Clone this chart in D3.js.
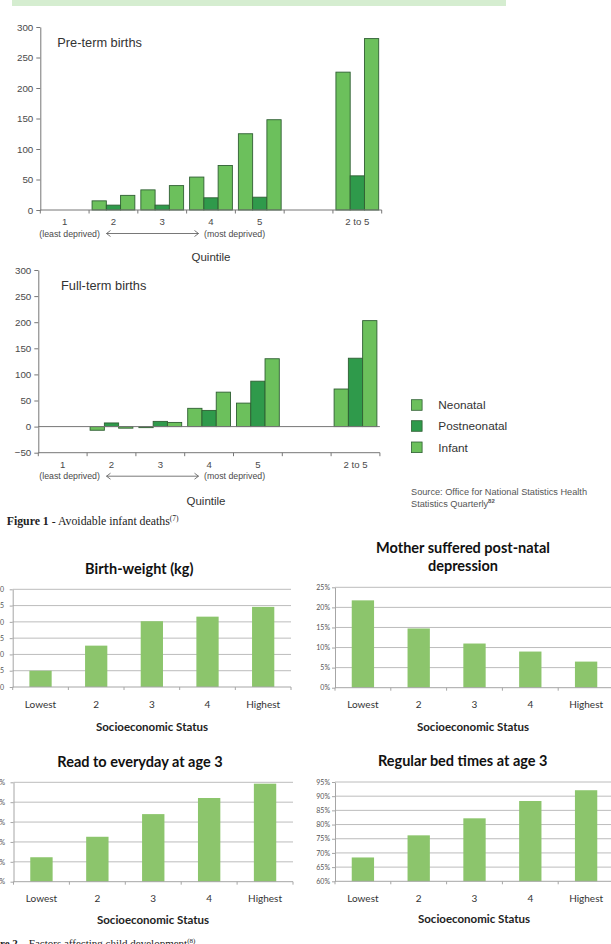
<!DOCTYPE html>
<html>
<head>
<meta charset="utf-8">
<script src="https://cdn.jsdelivr.net/npm/d3@7"></script>
<style>
  html, body { margin: 0; padding: 0; background: #fff; overflow: hidden; }
  svg { display: block; }
</style>
</head>
<body>
<script>
// ---------------- DATA ----------------
const quintiles = ["1", "2", "3", "4", "5", "gap", "2 to 5"];
const quintileLabels = ["1", "2", "3", "4", "5", "", "2 to 5"];
const seriesNames = ["Neonatal", "Postneonatal", "Infant"];

const preNeonatal      = [null, 15, 33, 54, 125, null, 226];
const prePostneonatal  = [null, 8, 8, 20, 21, null, 56];
const preInfant        = [null, 24, 40, 73, 148, null, 281];

const fullNeonatal     = [null, -7, -2, 35, 45, null, 72];
const fullPostneonatal = [null, 7, 10, 31, 87, null, 131];
const fullInfant       = [null, -3, 8, 66, 130, null, 203];

const preTicks  = [0, 50, 100, 150, 200, 250, 300];
const fullTicks = [-50, 0, 50, 100, 150, 200, 250, 300];

const sesCategories = ["Lowest", "2", "3", "4", "Highest"];
const birthWeight          = [3.150, 3.227, 3.302, 3.316, 3.346];
const postNatalDepression  = [0.2175, 0.1475, 0.110, 0.090, 0.065];
const readEveryday         = [0.523, 0.626, 0.740, 0.821, 0.893];
const regularBedtimes      = [0.684, 0.762, 0.822, 0.883, 0.921];

const birthWeightTicks = [3.10, 3.15, 3.20, 3.25, 3.30, 3.35, 3.40];
const depressionTicks  = [0, 0.05, 0.10, 0.15, 0.20, 0.25];
const readTicks        = [0.40, 0.50, 0.60, 0.70, 0.80, 0.90];
const bedTicks         = [0.60, 0.65, 0.70, 0.75, 0.80, 0.85, 0.90, 0.95];

// ---------------- DRAW ----------------
const W = 611, H = 944;
const svg = d3.select("body").append("svg").attr("width", W).attr("height", H);

const LIGHT = "#6cc05c", DARK = "#2f9a4b", OUTLINE = "#2f5f33";
const seriesColors = [LIGHT, DARK, LIGHT];
const topFont = "'Liberation Sans', Arial, sans-serif";
const xlFont = "Lato, 'Open Sans', sans-serif";

// top light-green band
svg.append("rect").attr("x", 12).attr("y", 0).attr("width", 494).attr("height", 6).attr("fill", "#d5edd0");

function quintileChart(cfg) {
  const g = svg.append("g");
  const y = d3.scaleLinear().domain(cfg.domain).range([cfg.bottom, cfg.top]);
  const x = d3.scaleBand().domain(quintiles).range([cfg.left, cfg.right]).padding(0);
  const inner = d3.scaleBand().domain(seriesNames).range([3, x.bandwidth() - 3]).padding(0);

  // y axis
  const yAxis = d3.axisLeft(y).tickValues(cfg.ticks).tickSize(4).tickPadding(3).tickSizeOuter(0);
  const ya = g.append("g").attr("transform", `translate(${cfg.left},0)`).call(yAxis);
  ya.select(".domain").attr("stroke", "#777");
  ya.selectAll(".tick line").attr("stroke", "#777");
  ya.selectAll(".tick text").attr("font-family", topFont).attr("font-size", 9.8).attr("fill", "#4a4a4a");

  // bars
  const series = cfg.series;
  seriesNames.forEach((s, si) => {
    const vals = series[si];
    g.append("g").selectAll("rect")
      .data(quintiles.map((q, i) => ({ q, v: vals[i] })).filter(d => d.v !== null))
      .join("rect")
      .attr("x", d => x(d.q) + inner(s))
      .attr("width", inner.bandwidth())
      .attr("y", d => y(Math.max(0, d.v)))
      .attr("height", d => Math.abs(y(d.v) - y(0)))
      .attr("fill", seriesColors[si])
      .attr("stroke", OUTLINE)
      .attr("stroke-width", 0.9);
  });

  // zero line (if domain below zero)
  if (cfg.domain[0] < 0) {
    g.append("line").attr("x1", cfg.left).attr("x2", cfg.right)
      .attr("y1", y(0)).attr("y2", y(0)).attr("stroke", "#777");
  }

  // x axis at bottom with boundary ticks
  g.append("line").attr("x1", cfg.left).attr("x2", cfg.right)
    .attr("y1", cfg.bottom).attr("y2", cfg.bottom).attr("stroke", "#777");
  const bounds = quintiles.map(q => x(q)).concat([cfg.right]);
  g.append("g").selectAll("line").data(bounds).join("line")
    .attr("x1", d => d).attr("x2", d => d)
    .attr("y1", cfg.bottom).attr("y2", cfg.bottom + 3.5).attr("stroke", "#777");

  // category labels
  g.append("g").selectAll("text").data(quintiles).join("text")
    .attr("x", d => x(d) + x.bandwidth() / 2)
    .attr("y", cfg.bottom + 15)
    .attr("text-anchor", "middle")
    .attr("font-family", topFont).attr("font-size", 9.6).attr("fill", "#4a4a4a")
    .text((d, i) => quintileLabels[i]);

  // deprived annotations
  const ay = cfg.bottom + 26.5;
  g.append("text").attr("x", 39.3).attr("y", ay).attr("font-family", topFont)
    .attr("font-size", 8.8).attr("fill", "#4a4a4a").text("(least deprived)");
  g.append("text").attr("x", 204).attr("y", ay).attr("font-family", topFont)
    .attr("font-size", 8.8).attr("fill", "#4a4a4a").text("(most deprived)");
  const lineY = ay - 3;
  const ax1 = 106.5, ax2 = 198.5;
  g.append("path")
    .attr("d", `M${ax1},${lineY}H${ax2}M${ax1 + 4},${lineY - 3}L${ax1},${lineY}L${ax1 + 4},${lineY + 3}M${ax2 - 4},${lineY - 3}L${ax2},${lineY}L${ax2 - 4},${lineY + 3}`)
    .attr("fill", "none").attr("stroke", "#555").attr("stroke-width", 0.8);

  // Quintile label
  g.append("text").attr("x", cfg.quintileX).attr("y", cfg.quintileY).attr("text-anchor", "middle")
    .attr("font-family", topFont).attr("font-size", 11.5).attr("fill", "#333").text("Quintile");

  // title
  g.append("text").attr("x", cfg.titleX).attr("y", cfg.titleY)
    .attr("font-family", topFont).attr("font-size", 12.8).attr("fill", "#333").text(cfg.title);
}

quintileChart({
  left: 40.3, right: 381.7, top: 27, bottom: 210,
  domain: [0, 300], ticks: preTicks,
  series: [preNeonatal, prePostneonatal, preInfant],
  title: "Pre-term births", titleX: 57.3, titleY: 47,
  quintileX: 211, quintileY: 261
});

quintileChart({
  left: 38.3, right: 379.9, top: 270, bottom: 452.7,
  domain: [-50, 300], ticks: fullTicks,
  series: [fullNeonatal, fullPostneonatal, fullInfant],
  title: "Full-term births", titleX: 61, titleY: 289.5,
  quintileX: 206, quintileY: 505
});

// legend
const legY = [405, 426, 447.3];
seriesNames.forEach((s, i) => {
  svg.append("rect").attr("x", 411.5).attr("y", legY[i] - 5.3).attr("width", 10.6).attr("height", 10.6)
    .attr("fill", seriesColors[i]).attr("stroke", OUTLINE).attr("stroke-width", 0.8);
  svg.append("text").attr("x", 438.3).attr("y", legY[i] + 4.2)
    .attr("font-family", topFont).attr("font-size", 11.8).attr("fill", "#333").text(s);
});

// source
const src = svg.append("text").attr("font-family", topFont).attr("font-size", 9.2).attr("fill", "#555");
src.append("tspan").attr("x", 411).attr("y", 495).text("Source: Office for National Statistics Health");
src.append("tspan").attr("x", 411).attr("y", 506.5).text("Statistics Quarterly");
src.append("tspan").attr("dy", -3.5).attr("font-size", 6).attr("font-weight", "bold").text("82");

// Figure 1 caption
const cap1 = svg.append("text").attr("x", 6.7).attr("y", 524.5).attr("font-family", "'Liberation Serif', 'Times New Roman', serif")
  .attr("font-size", 11.8).attr("fill", "#222");
cap1.append("tspan").attr("font-weight", "bold").text("Figure 1");
cap1.append("tspan").text(" - Avoidable infant deaths");
cap1.append("tspan").attr("dy", -4).attr("font-size", 7.5).text("(7)");

// ---------------- Excel-style charts ----------------
function excelChart(cfg) {
  const g = svg.append("g");
  const y = d3.scaleLinear().domain([cfg.ticks[0], cfg.ticks[cfg.ticks.length - 1]]).range([cfg.bottom, cfg.top]);
  const x = d3.scaleBand().domain(sesCategories).range([cfg.left, cfg.right]).paddingInner(0.6).paddingOuter(0.3);

  // gridlines
  g.append("g").selectAll("line").data(cfg.ticks.slice(1)).join("line")
    .attr("x1", cfg.left).attr("x2", cfg.right)
    .attr("y1", d => y(d)).attr("y2", d => y(d))
    .attr("stroke", "#bcbcbc").attr("stroke-width", 1);

  // y axis
  const yAxis = d3.axisLeft(y).tickValues(cfg.ticks).tickSize(3).tickPadding(2).tickSizeOuter(0).tickFormat(cfg.fmt);
  const ya = g.append("g").attr("transform", `translate(${cfg.left},0)`).call(yAxis);
  ya.select(".domain").attr("stroke", "#a6a6a6");
  ya.selectAll(".tick line").attr("stroke", "#a6a6a6");
  ya.selectAll(".tick text").attr("x", cfg.labelRight - cfg.left).attr("font-family", xlFont)
    .attr("font-size", 7).attr("fill", "#555");

  // bars
  g.append("g").selectAll("rect").data(sesCategories.map((c, i) => ({ c, v: cfg.values[i] })))
    .join("rect")
    .attr("x", d => x(d.c)).attr("width", x.bandwidth())
    .attr("y", d => y(d.v)).attr("height", d => y(cfg.ticks[0]) - y(d.v))
    .attr("fill", "#8cc56c");

  // x axis line + ticks
  g.append("line").attr("x1", cfg.left).attr("x2", cfg.right)
    .attr("y1", cfg.bottom).attr("y2", cfg.bottom).attr("stroke", "#a6a6a6");
  const bounds = d3.range(sesCategories.length + 1).map(i => cfg.left + i * (cfg.right - cfg.left) / sesCategories.length);
  g.append("g").selectAll("line").data(bounds).join("line")
    .attr("x1", d => d).attr("x2", d => d).attr("y1", cfg.bottom).attr("y2", cfg.bottom + 3)
    .attr("stroke", "#a6a6a6");

  // category labels
  g.append("g").selectAll("text").data(sesCategories).join("text")
    .attr("x", d => x(d) + x.bandwidth() / 2).attr("y", cfg.catY)
    .attr("text-anchor", "middle").attr("font-family", xlFont).attr("font-size", 10).attr("fill", "#333")
    .text(d => d);

  // axis title
  g.append("text").attr("x", cfg.axisTitleX).attr("y", cfg.axisTitleY)
    .attr("text-anchor", "middle").attr("font-family", xlFont).attr("font-size", 11.5)
    .attr("font-weight", "bold").attr("fill", "#222").text("Socioeconomic Status");

  // title
  cfg.title.forEach((t, i) => {
    g.append("text").attr("x", cfg.titleX).attr("y", cfg.titleY[i]).attr("text-anchor", "middle")
      .attr("font-family", xlFont).attr("font-size", 14.5).attr("font-weight", "bold").attr("fill", "#111")
      .text(t);
  });
}

const pct = d3.format(".0%");

excelChart({
  left: 12.7, right: 291, top: 589.3, bottom: 687, labelRight: 4,
  ticks: birthWeightTicks, fmt: d3.format(".2f"), values: birthWeight,
  catY: 707.5, axisTitleY: 731, axisTitleX: 152,
  title: ["Birth-weight (kg)"], titleX: 139.3, titleY: [573.5]
});

excelChart({
  left: 335, right: 614, top: 587.3, bottom: 687.7, labelRight: 330,
  ticks: depressionTicks, fmt: pct, values: postNatalDepression,
  catY: 708, axisTitleY: 731, axisTitleX: 473,
  title: ["Mother suffered post-natal", "depression"], titleX: 463, titleY: [552.5, 571]
});

excelChart({
  left: 13.5, right: 293, top: 782.3, bottom: 881.7, labelRight: 5,
  ticks: readTicks, fmt: pct, values: readEveryday,
  catY: 901.5, axisTitleY: 923.5, axisTitleX: 153,
  title: ["Read to everyday at age 3"], titleX: 140, titleY: [767]
});

excelChart({
  left: 335, right: 614, top: 782, bottom: 881.3, labelRight: 330,
  ticks: bedTicks, fmt: pct, values: regularBedtimes,
  catY: 901.5, axisTitleY: 923, axisTitleX: 474,
  title: ["Regular bed times at age 3"], titleX: 462.7, titleY: [766]
});

// Figure 2 caption (partly off-page, as in the reference)
const cap2 = svg.append("text").attr("x", -21.4).attr("y", 946.5).attr("font-family", "'Liberation Serif', 'Times New Roman', serif")
  .attr("font-size", 11).attr("fill", "#222");
cap2.append("tspan").attr("font-weight", "bold").text("Figure 2");
cap2.append("tspan").text(" – Factors affecting child development");
cap2.append("tspan").attr("dy", -4).attr("font-size", 7).text("(8)");
</script>
</body>
</html>
